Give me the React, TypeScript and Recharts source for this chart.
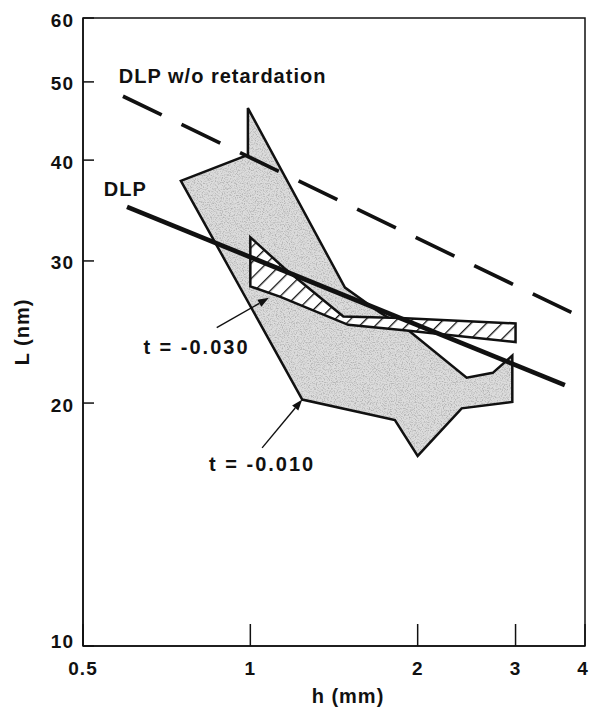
import React from "react";
import { ComposedChart, XAxis, YAxis, Scatter, ReferenceArea } from "recharts";

const FONT = '"Liberation Sans", Arial, Helvetica, sans-serif';
const INK = "#111";

const hTicks = [0.5, 1, 2, 3, 4];
const lTicks = [10, 20, 30, 40, 50, 60];

// DLP w/o retardation (dashed)
const noRetardH = [0.59, 3.78];
const noRetardL = [48.0, 25.9];

// DLP (solid)
const dlpH = [0.6, 3.68];
const dlpL = [35.0, 21.05];

// t = -0.010 region (stippled grey)
const band010H = [0.75, 0.99, 0.99, 1.48, 1.71, 1.9, 2.45, 2.73, 2.96, 2.96, 2.4, 2.0, 1.82, 1.76, 1.24];
const band010L = [37.7, 40.6, 46.4, 27.8, 25.9, 24.8, 21.5, 21.8, 22.9, 20.06, 19.7, 17.2, 19.05, 19.15, 20.2];

// t = -0.030 region (hatched)
const band030H = [1.0, 1.0, 1.13, 1.5, 1.91, 3.0, 3.0, 1.86, 1.47, 1.15];
const band030L = [32.1, 27.9, 27.1, 25.0, 24.6, 23.8, 25.1, 25.5, 25.6, 29.4];

// annotation arrows: [start, tip]
const arrow030H = [0.87, 1.08];
const arrow030L = [24.8, 27.0];
const arrow010H = [1.05, 1.24];
const arrow010L = [17.6, 20.2];

// text annotations
const noteText = ["DLP w/o retardation", "DLP", "t = -0.030", "t = -0.010"];
const noteH = [0.58, 0.545, 0.8, 1.05];
const noteL = [50.8, 36.8, 23.5, 16.8];
const noteAnchor = ["start", "start", "middle", "middle"];

const zip = (hs: number[], ls: number[]) => hs.map((h, i) => ({ x: h, y: ls[i] }));

const noRetard = zip(noRetardH, noRetardL);
const dlp = zip(dlpH, dlpL);
const band010 = zip(band010H, band010L);
const band030 = zip(band030H, band030L);
const arrow030 = zip(arrow030H, arrow030L);
const arrow010 = zip(arrow010H, arrow010L);
const notes = noteText.map((t, i) => ({ x: noteH[i], y: noteL[i], text: t, anchor: noteAnchor[i] }));

const Nothing = () => <g />;

const toPath = (pts: { x: number; y: number }[], close: boolean) =>
  pts.map((p, i) => `${i ? "L" : "M"}${p.x},${p.y}`).join(" ") + (close ? " Z" : "");

const polygon = (fills: string[]) => (props: any) => {
  const d = toPath(props.points || [], true);
  return (
    <g>
      {fills.map((f) => (
        <path key={f} d={d} fill={f} stroke="none" />
      ))}
      <path d={d} fill="none" stroke={INK} strokeWidth={2.5} strokeLinejoin="miter" />
    </g>
  );
};

const straight = (width: number, dash?: string) => (props: any) => (
  <path
    d={toPath(props.points || [], false)}
    fill="none"
    stroke={INK}
    strokeWidth={width}
    strokeDasharray={dash}
  />
);

const arrow = (props: any) => {
  const pts = props.points || [];
  if (pts.length < 2) return <g />;
  const [a, b] = pts;
  const ang = Math.atan2(b.y - a.y, b.x - a.x);
  const len = 11;
  const half = 4;
  const bx = b.x - len * Math.cos(ang);
  const by = b.y - len * Math.sin(ang);
  const px = -Math.sin(ang) * half;
  const py = Math.cos(ang) * half;
  return (
    <g>
      <line x1={a.x} y1={a.y} x2={bx} y2={by} stroke={INK} strokeWidth={1.4} />
      <path d={`M${b.x},${b.y} L${bx + px},${by + py} L${bx - px},${by - py} Z`} fill={INK} />
    </g>
  );
};

const NoteShape = (props: any) => {
  const p = props.payload;
  return (
    <text
      x={props.cx}
      y={props.cy}
      textAnchor={p.anchor}
      dominantBaseline="central"
      fontFamily={FONT}
      fontWeight="bold"
      fontSize={20}
      letterSpacing={p.text.startsWith("t") ? 2 : 1}
      fill={INK}
    >
      {p.text}
    </text>
  );
};

const HTick = (props: any) => {
  const { x, y, payload } = props;
  return (
    <g>
      <line x1={x} y1={y} x2={x} y2={y - 22} stroke={INK} strokeWidth={1.5} />
      <text
        x={payload.value === 4 ? x - 2 : x}
        y={y + 22}
        textAnchor="middle"
        dominantBaseline="central"
        fontFamily={FONT}
        fontWeight="bold"
        fontSize={19}
        letterSpacing={1}
        fill={INK}
      >
        {payload.value}
      </text>
    </g>
  );
};

const LTick = (props: any) => {
  const { x, y, payload } = props;
  return (
    <g>
      <line x1={x} y1={y} x2={x + 11} y2={y} stroke={INK} strokeWidth={1.5} />
      <text
        x={x - 9}
        y={payload.value === 10 ? y - 5 : y + 2}
        textAnchor="end"
        dominantBaseline="central"
        fontFamily={FONT}
        fontWeight="bold"
        fontSize={19}
        letterSpacing={1}
        fill={INK}
      >
        {payload.value}
      </text>
    </g>
  );
};

const XTitle = (props: any) => {
  const vb = props.viewBox;
  return (
    <text
      x={vb.x + vb.width / 2 + 14}
      y={vb.y + 57}
      textAnchor="middle"
      fontFamily={FONT}
      fontWeight="bold"
      fontSize={20}
      letterSpacing={1}
      fill={INK}
    >
      h (mm)
    </text>
  );
};

const YTitle = (props: any) => {
  const vb = props.viewBox;
  const x = vb.x - 1;
  const y = vb.y + vb.height / 2;
  return (
    <text
      x={x}
      y={y}
      transform={`rotate(-90, ${x}, ${y})`}
      textAnchor="middle"
      dominantBaseline="central"
      fontFamily={FONT}
      fontWeight="bold"
      fontSize={20}
      letterSpacing={1}
      fill={INK}
    >
      L (nm)
    </text>
  );
};

export default function App() {
  return (
    <div style={{ position: "absolute", left: 0, top: 0, width: 589, height: 708, background: "#fff" }}>
      <svg width={0} height={0} style={{ position: "absolute" }}>
        <defs>
          <filter id="grain" x="0" y="0" width="100%" height="100%">
            <feTurbulence type="fractalNoise" baseFrequency="0.85" numOctaves="2" seed="7" />
            <feColorMatrix
              type="matrix"
              values="0 0 0 0 0.45  0 0 0 0 0.45  0 0 0 0 0.45  3.2 0 0 0 -1.45"
            />
          </filter>
          <pattern id="stipple" width={120} height={120} patternUnits="userSpaceOnUse">
            <rect width={120} height={120} fill="#000" filter="url(#grain)" />
          </pattern>
          <pattern id="hatch" width={11} height={11} patternUnits="userSpaceOnUse" patternTransform="rotate(45)">
            <rect width={11} height={11} fill="#fff" />
            <line x1={0} y1={0} x2={0} y2={11} stroke={INK} strokeWidth={2.6} />
          </pattern>
        </defs>
      </svg>
      <ComposedChart width={589} height={708} margin={{ top: 18, right: 4, bottom: 22, left: 23 }}>
        <XAxis
          type="number"
          dataKey="x"
          scale="log"
          domain={[0.5, 4]}
          ticks={hTicks}
          allowDataOverflow
          height={40}
          tickSize={0}
          tickMargin={0}
          tickLine={false}
          axisLine={{ stroke: INK, strokeWidth: 1.5 }}
          tick={HTick}
          interval={0}
          label={XTitle}
        />
        <YAxis
          type="number"
          dataKey="y"
          scale="log"
          domain={[10, 60]}
          ticks={lTicks}
          allowDataOverflow
          width={60}
          tickSize={0}
          tickMargin={0}
          tickLine={false}
          axisLine={{ stroke: INK, strokeWidth: 1.5 }}
          tick={LTick}
          interval={0}
          label={YTitle}
        />
        <Scatter data={band010} shape={Nothing} line={polygon(["#dcdcdc", "url(#stipple)"])} isAnimationActive={false} />
        <Scatter data={band030} shape={Nothing} line={polygon(["url(#hatch)"])} isAnimationActive={false} />
        <Scatter data={noRetard} shape={Nothing} line={straight(3.7, "43 22")} isAnimationActive={false} />
        <Scatter data={dlp} shape={Nothing} line={straight(4.7)} isAnimationActive={false} />
        <Scatter data={arrow030} shape={Nothing} line={arrow} isAnimationActive={false} />
        <Scatter data={arrow010} shape={Nothing} line={arrow} isAnimationActive={false} />
        <Scatter data={notes} shape={NoteShape} isAnimationActive={false} />
        <ReferenceArea
          x1={0.5}
          x2={4}
          y1={10}
          y2={60}
          fill="none"
          stroke={INK}
          strokeWidth={1.5}
          ifOverflow="visible"
        />
      </ComposedChart>
    </div>
  );
}
